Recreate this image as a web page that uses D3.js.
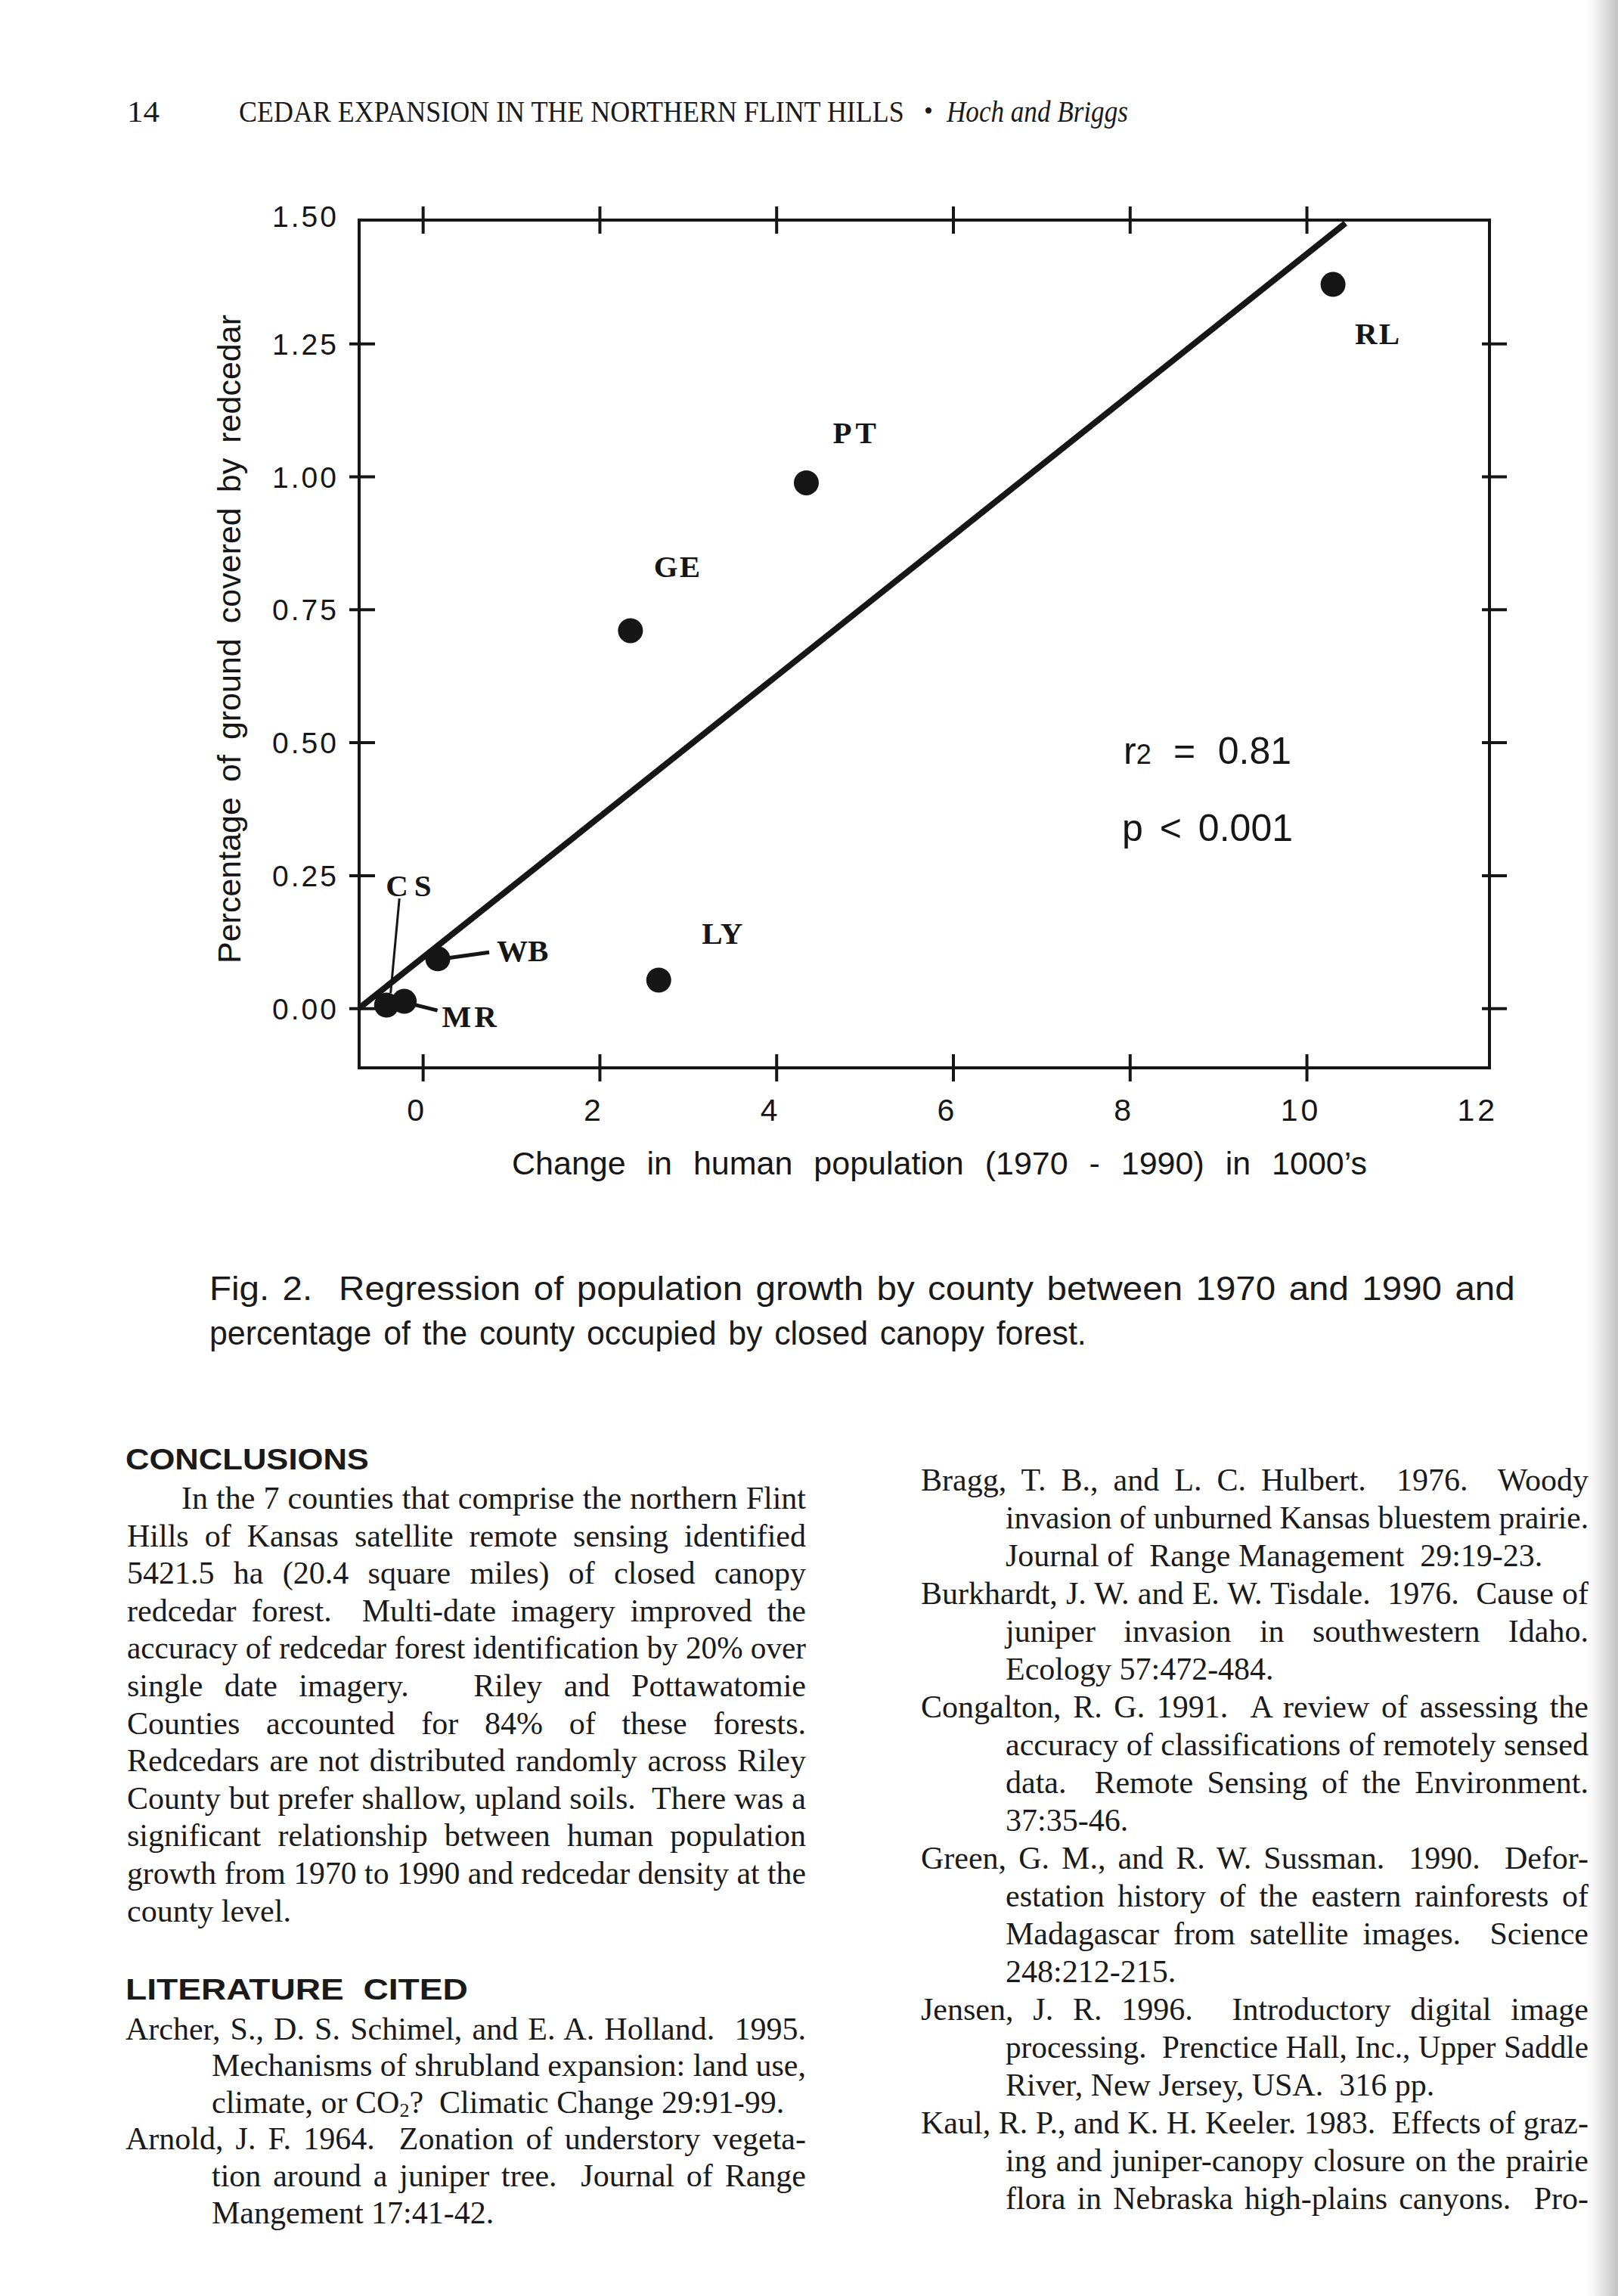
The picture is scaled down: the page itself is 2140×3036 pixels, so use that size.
<!DOCTYPE html>
<html>
<head>
<meta charset="utf-8">
<script src="https://cdn.jsdelivr.net/npm/d3@7"></script>
<style>
  html, body { margin: 0; padding: 0; background: #fff; }
  svg { display: block; }
  text { white-space: pre; }
</style>
</head>
<body>
<script>
// ---------------- DATA ----------------
const counties   = ["RL", "PT", "GE", "LY", "WB", "MR", "CS"];
const popChange  = [10.30, 4.34, 2.35, 2.67, 0.17, -0.21, -0.41];   // x, 1000's
const cedarCover = [1.361, 0.988, 0.710, 0.053, 0.093, 0.013, 0.006]; // y, %
const xTickValues = [0, 2, 4, 6, 8, 10, 12];
const yTickValues = [0, 0.25, 0.50, 0.75, 1.00, 1.25, 1.50];
const fitX = [-0.72, 10.44];
const fitY = [0.0, 1.476];
const rSquared = "0.81";
const pValue = "0.001";

const headerPage = "14";
const headerTitle = "CEDAR EXPANSION IN THE NORTHERN FLINT HILLS";
const headerAuthors = "Hoch and Briggs";
const xTitle = "Change in human population (1970 - 1990) in 1000\u2019s";
const yTitle = "Percentage of ground covered by redcedar";
const captionLines = [
  "Fig. 2.  Regression of population growth by county between 1970 and 1990 and",
  "percentage of the county occupied by closed canopy forest."
];
const conclusionsHead = "CONCLUSIONS";
const conclusionLines = [
  "In the 7 counties that comprise the northern Flint",
  "Hills of Kansas satellite remote sensing identified",
  "5421.5 ha (20.4 square miles) of closed canopy",
  "redcedar forest.  Multi-date imagery improved the",
  "accuracy of redcedar forest identification by 20% over",
  "single date imagery.   Riley and Pottawatomie",
  "Counties accounted for 84% of these forests.",
  "Redcedars are not distributed randomly across Riley",
  "County but prefer shallow, upland soils.  There was a",
  "significant relationship between human population",
  "growth from 1970 to 1990 and redcedar density at the",
  "county level."
];
const litHead = "LITERATURE  CITED";
const refsLeft = [
  { lines: ["Archer, S., D. S. Schimel, and E. A. Holland.  1995.",
            "Mechanisms of shrubland expansion: land use,",
            "climate, or CO_2?  Climatic Change 29:91-99."], cont: false },
  { lines: ["Arnold, J. F. 1964.  Zonation of understory vegeta-",
            "tion around a juniper tree.  Journal of Range",
            "Mangement 17:41-42."], cont: false }
];
const refsRight = [
  { lines: ["Bragg, T. B., and L. C. Hulbert.  1976.  Woody",
            "invasion of unburned Kansas bluestem prairie.",
            "Journal of  Range Management  29:19-23."], cont: false },
  { lines: ["Burkhardt, J. W. and E. W. Tisdale.  1976.  Cause of",
            "juniper invasion in southwestern Idaho.",
            "Ecology 57:472-484."], cont: false },
  { lines: ["Congalton, R. G. 1991.  A review of assessing the",
            "accuracy of classifications of remotely sensed",
            "data.  Remote Sensing of the Environment.",
            "37:35-46."], cont: false },
  { lines: ["Green, G. M., and R. W. Sussman.  1990.  Defor-",
            "estation history of the eastern rainforests of",
            "Madagascar from satellite images.  Science",
            "248:212-215."], cont: false },
  { lines: ["Jensen, J. R. 1996.  Introductory digital image",
            "processing.  Prenctice Hall, Inc., Upper Saddle",
            "River, New Jersey, USA.  316 pp."], cont: false },
  { lines: ["Kaul, R. P., and K. H. Keeler. 1983.  Effects of graz-",
            "ing and juniper-canopy closure on the prairie",
            "flora in Nebraska high-plains canyons.  Pro-"], cont: true }
];

// ---------------- LAYOUT / STYLE ----------------
const W = 2140, H = 3036;
const ink = "#161616";
const SANS = "'Liberation Sans', Arial, Helvetica, sans-serif";
const SERIF = "'Liberation Serif', 'Times New Roman', Times, serif";

// label placement relative to each point (pixels)
const labelLayout = {
  RL: { dx: 29, dy: 79, ls: 2 },
  PT: { dx: 35, dy: -52, ls: 5 },
  GE: { dx: 31, dy: -71, ls: 2 },
  LY: { dx: 57, dy: -48, ls: 1 },
  WB: { dx: 78, dy: 3, ls: 0, leader: [14, -1, 68, -8.5], lw: 5 },
  MR: { dx: 50, dy: 34, ls: 4, leader: [12, 4, 44, 12], lw: 5 },
  CS: { dx: -1, dy: -144, ls: 8, leader: [5.4, -15.7, 17, -141], lw: 3 }
};

const svg = d3.select("body").append("svg")
  .attr("width", W).attr("height", H).attr("viewBox", `0 0 ${W} ${H}`);
svg.append("rect").attr("width", W).attr("height", H).attr("fill", "#fff");

// page shadow at the right edge (scan binding)
const defs = svg.append("defs");
const grad = defs.append("linearGradient").attr("id", "edge").attr("x1", 0).attr("x2", 1).attr("y1", 0).attr("y2", 0);
grad.append("stop").attr("offset", "0%").attr("stop-color", "#ffffff").attr("stop-opacity", 0);
grad.append("stop").attr("offset", "55%").attr("stop-color", "#e4e4e4").attr("stop-opacity", 1);
grad.append("stop").attr("offset", "100%").attr("stop-color", "#c4c4c4").attr("stop-opacity", 1);
svg.append("rect").attr("x", 2092).attr("y", 0).attr("width", 48).attr("height", H).attr("fill", "url(#edge)");

// ---------------- HELPERS ----------------
function fit(sel, target) {
  const node = sel.node();
  const w = node.getComputedTextLength();
  if (w > target) {
    sel.attr("textLength", target).attr("lengthAdjust", "spacingAndGlyphs");
  } else {
    const spaces = (node.textContent.match(/ /g) || []).length;
    if (spaces > 0) sel.attr("word-spacing", (target - w) / spaces);
    else sel.attr("textLength", target).attr("lengthAdjust", "spacing");
  }
}

// text horizontally condensed by a transform so its real box matches the target width
function squeezed(g, str, xPos, yPos, target, opts) {
  const t = g.append("text").attr("x", 0).attr("y", 0)
    .attr("font-family", opts.family).attr("font-size", opts.size);
  if (opts.style) t.attr("font-style", opts.style);
  if (opts.weight) t.attr("font-weight", opts.weight);
  t.text(str);
  const w = t.node().getComputedTextLength();
  t.attr("transform", `translate(${xPos},${yPos}) scale(${target / w},1)`);
  return t;
}

// ---------------- SCALES ----------------
const x = d3.scaleLinear().domain([-0.72, 12.07]).range([475, 1970]);
const y = d3.scaleLinear().domain([-0.112, 1.482]).range([1412, 291]);
const [xL, xR] = x.range();
const [yB, yT] = y.range();

const plot = svg.append("g");

// frame
plot.append("rect")
  .attr("x", xL).attr("y", yT).attr("width", xR - xL).attr("height", yB - yT)
  .attr("fill", "none").attr("stroke", ink).attr("stroke-width", 4);

function styleAxis(g) {
  g.select(".domain").remove();
  g.selectAll(".tick line").attr("stroke", ink).attr("stroke-width", 4);
  g.selectAll(".tick text").attr("fill", ink).attr("font-family", SANS);
}

// bottom axis (ticks 0..10, labels 0..12)
const gBottom = plot.append("g").attr("transform", `translate(0,${yB})`)
  .call(d3.axisBottom(x).tickValues(xTickValues).tickFormat(d => String(d)))
  .call(styleAxis);
gBottom.selectAll(".tick line").attr("y1", -18).attr("y2", 18)
  .attr("display", d => d > 10 ? "none" : null);
gBottom.selectAll(".tick text")
  .attr("y", 70).attr("dy", null).attr("x", -8)
  .attr("font-size", 41).attr("letter-spacing", 4);

// top axis (ticks only)
const gTop = plot.append("g").attr("transform", `translate(0,${yT})`)
  .call(d3.axisTop(x).tickValues(xTickValues.filter(v => v <= 10)).tickFormat(""))
  .call(styleAxis);
gTop.selectAll(".tick line").attr("y1", -18).attr("y2", 18);

// left axis (ticks 0..1.25, labels 0..1.50)
const gLeft = plot.append("g").attr("transform", `translate(${xL},0)`)
  .call(d3.axisLeft(y).tickValues(yTickValues).tickFormat(d3.format(".2f")))
  .call(styleAxis);
gLeft.selectAll(".tick line").attr("x1", -13).attr("x2", 21)
  .attr("display", d => d > 1.3 ? "none" : null);
gLeft.selectAll(".tick text")
  .attr("x", -27).attr("dy", d => d > 1.3 ? "0.55em" : "0.36em")
  .attr("font-size", 39).attr("letter-spacing", 3);

// right axis (ticks only)
const gRight = plot.append("g").attr("transform", `translate(${xR},0)`)
  .call(d3.axisRight(y).tickValues(yTickValues.filter(v => v <= 1.3)).tickFormat(""))
  .call(styleAxis);
gRight.selectAll(".tick line").attr("x1", -10).attr("x2", 23);

// regression line
const fitData = fitX.map((v, i) => [v, fitY[i]]);
plot.append("path")
  .datum(fitData)
  .attr("d", d3.line().x(d => x(d[0])).y(d => y(d[1])))
  .attr("fill", "none").attr("stroke", ink).attr("stroke-width", 8);

// points
const pts = counties.map((c, i) => ({ c, px: x(popChange[i]), py: y(cedarCover[i]) }));

// leader lines
plot.selectAll("line.leader").data(pts.filter(p => labelLayout[p.c].leader))
  .join("line").attr("class", "leader")
  .attr("x1", p => p.px + labelLayout[p.c].leader[0])
  .attr("y1", p => p.py + labelLayout[p.c].leader[1])
  .attr("x2", p => p.px + labelLayout[p.c].leader[2])
  .attr("y2", p => p.py + labelLayout[p.c].leader[3])
  .attr("stroke", ink).attr("stroke-width", p => labelLayout[p.c].lw);

plot.selectAll("circle.pt").data(pts).join("circle").attr("class", "pt")
  .attr("cx", p => p.px).attr("cy", p => p.py).attr("r", 16.5).attr("fill", ink);

plot.selectAll("text.lab").data(pts).join("text").attr("class", "lab")
  .attr("x", p => p.px + labelLayout[p.c].dx)
  .attr("y", p => p.py + labelLayout[p.c].dy)
  .attr("font-family", SERIF).attr("font-weight", "bold").attr("font-size", 41)
  .attr("letter-spacing", p => labelLayout[p.c].ls)
  .attr("fill", ink)
  .text(p => p.c);

// statistics
const tR = plot.append("text").attr("x", 1486).attr("y", 1010)
  .attr("font-family", SANS).attr("font-size", 50).attr("fill", ink);
tR.append("tspan").text("r");
tR.append("tspan").attr("font-size", 36).text("2");
tR.append("tspan").text(" = " + rSquared);
fit(tR, 222);
const tP = plot.append("text").attr("x", 1484).attr("y", 1112)
  .attr("font-family", SANS).attr("font-size", 50).attr("fill", ink)
  .text("p < " + pValue);
fit(tP, 226);

// axis titles
const tX = plot.append("text").attr("x", 677).attr("y", 1553)
  .attr("font-family", SANS).attr("font-size", 43).attr("fill", ink)
  .text(xTitle);
fit(tX, 1131);
const tY = plot.append("text").attr("transform", "translate(318,1274) rotate(-90)")
  .attr("font-family", SANS).attr("font-size", 43).attr("fill", ink)
  .text(yTitle);
fit(tY, 858);

// ---------------- PAGE TEXT ----------------
const page = svg.append("g").attr("fill", "#1a1a1a");

function line(g, str, xPos, yPos, opts) {
  const t = g.append("text").attr("x", xPos).attr("y", yPos)
    .attr("font-family", opts.family).attr("font-size", opts.size);
  if (opts.weight) t.attr("font-weight", opts.weight);
  if (opts.style) t.attr("font-style", opts.style);
  if (str.includes("_2")) {
    const parts = str.split("_2");
    t.append("tspan").text(parts[0]);
    t.append("tspan").attr("font-size", opts.size * 0.62).attr("baseline-shift", "-18%").text("2");
    t.append("tspan").text(parts[1]);
  } else {
    t.text(str);
  }
  return t;
}

// header (condensed via transform)
const serifHead = { family: SERIF, size: 41 };
squeezed(page, headerPage, 168, 161, 43, serifHead);
squeezed(page, headerTitle, 316, 161, 880, serifHead);
line(page, "\u2022", 1222, 158, { family: SERIF, size: 34 });
squeezed(page, headerAuthors, 1252, 161, 240, { family: SERIF, size: 41, style: "italic" });

// caption (condensed sans)
const capOpt = { family: SANS, size: 45 };
[[captionLines[0], 1727], [captionLines[1], 1160]].forEach(([s, target], i) => {
  const t = squeezed(page, s, 277, 1719 + i * 59, 1, capOpt);
  // natural width with a little extra word gap, then condense to target
  t.attr("word-spacing", 4);
  t.attr("transform", null);
  const w = t.node().getComputedTextLength();
  t.attr("transform", `translate(277,${1719 + i * 59}) scale(${target / w},1)`);
});

// left column
const headOpt = { family: SANS, size: 39, weight: "bold" };
squeezed(page, conclusionsHead, 166, 1943, 322, headOpt);
const bodyOpt = { family: SERIF, size: 42 };
conclusionLines.forEach((s, i) => {
  const x0 = i === 0 ? 240 : 168;
  const t = line(page, s, x0, 1995 + i * 49.6, bodyOpt);
  if (i < conclusionLines.length - 1) fit(t, 1066 - x0);
});

squeezed(page, litHead, 166, 2644, 453, headOpt);

function refs(list, xHang, xIndent, xRight, y0, step) {
  let k = 0;
  list.forEach(entry => {
    entry.lines.forEach((s, j) => {
      const x0 = j === 0 ? xHang : xIndent;
      const t = line(page, s, x0, y0 + k * step, bodyOpt);
      const last = j === entry.lines.length - 1;
      if (!last || entry.cont) fit(t, xRight - x0);
      k++;
    });
  });
}
refs(refsLeft, 166, 280, 1066, 2696.6, 48.6);
refs(refsRight, 1218, 1330, 2101, 1971, 50);
</script>
</body>
</html>
